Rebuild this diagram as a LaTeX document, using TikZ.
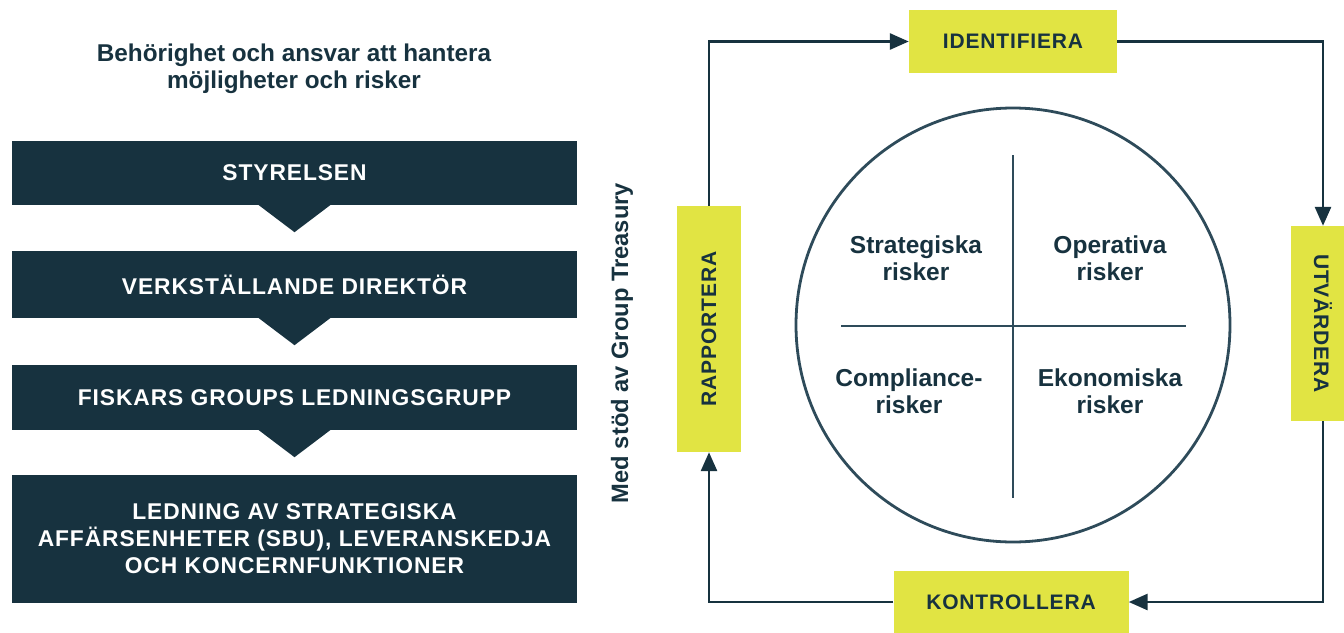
\documentclass[tikz,border=0pt]{standalone}
\usepackage{fontspec}
\usepackage{graphicx}
\setmainfont{Liberation Sans}
\newfontfamily\capsfont[LetterSpace=4]{Liberation Sans}
\usetikzlibrary{arrows.meta}
\definecolor{navy}{HTML}{17323F}
\definecolor{ring}{HTML}{2E4B5A}
\definecolor{lime}{HTML}{E1E443}
\tikzset{
  level/.style={fill=navy, text=white, minimum width=565pt, inner sep=0pt,
    align=center, font=\capsfont\bfseries\fontsize{22.8}{27}\selectfont},
  pointer/.style={fill=navy},
  phase/.style={fill=lime, text=navy, inner sep=0pt,
    font=\capsfont\bfseries\fontsize{21}{27}\selectfont},
  flow/.style={draw=navy, line width=2.8pt, -{Triangle[length=19pt,width=16pt]}},
  quad/.style={text=navy, align=center, font=\bfseries\fontsize{24.5}{27}\selectfont}
}
\begin{document}
\begin{tikzpicture}[x=1pt,y=-1pt]
  \useasboundingbox (0,0) rectangle (1344,632);
  \node[text=navy, align=center, font=\bfseries\fontsize{24.3}{27}\selectfont] (title)
    at (294,69) {Behörighet och ansvar att hantera\\möjligheter och risker};
  \node[level, minimum height=64pt] (s1) at (294.5,173) {STYRELSEN};
  \node[level, minimum height=67pt] (s2) at (294.5,284.5) {VERKSTÄLLANDE DIREKTÖR};
  \node[level, minimum height=65pt] (s3) at (294.5,397.5) {FISKARS GROUPS LEDNINGSGRUPP};
  \node[level, minimum height=128pt] (s4) at (294.5,539)
    {LEDNING AV STRATEGISKA\\AFFÄRSENHETER (SBU), LEVERANSKEDJA\\OCH KONCERNFUNKTIONER};
  \foreach \s in {s1,s2,s3}
    \fill[pointer, shift={(\s.south)}] (-37,-1) -- (37,-1) -- (0,27) -- cycle;
  \node[rotate=90, text=navy, font=\bfseries\fontsize{23.7}{27}\selectfont] (gt)
    at (622,343) {Med stöd av Group Treasury};
  \node[draw=ring, line width=2.8pt, circle, minimum size=434pt, inner sep=0pt] (c)
    at (1013,325) {};
  \draw[ring, line width=2.8pt, shift={(c.center)}]
    (0,-170) -- (0,173) (-172,1) -- (173,1);
  \node[quad] (q1) at (916,258) {Strategiska\\risker};
  \node[quad] (q2) at (1110,258) {Operativa\\risker};
  \node[quad] (q3) at (909,391) {Compliance-\\risker};
  \node[quad] (q4) at (1110,391) {Ekonomiska\\risker};
  \node[phase, minimum width=208pt, minimum height=63pt] (ide) at (1013,41.5) {IDENTIFIERA};
  \node[phase, minimum width=64pt, minimum height=195pt] (utv) at (1323,323.5)
    {\rotatebox{-90}{UTVÄRDERA}};
  \node[phase, minimum width=235pt, minimum height=62pt] (kon) at (1011,602) {KONTROLLERA};
  \node[phase, minimum width=64pt, minimum height=246pt] (rap) at (709,329)
    {\rotatebox{90}{RAPPORTERA}};
  \begin{scope}
    \draw[flow] (rap.north) |- (ide.west);
    \draw[flow] (ide.east) -| (utv.north);
    \draw[flow] (utv.south) |- (kon.east);
    \draw[flow] (kon.west) -| (rap.south);
  \end{scope}
\end{tikzpicture}
\end{document}
